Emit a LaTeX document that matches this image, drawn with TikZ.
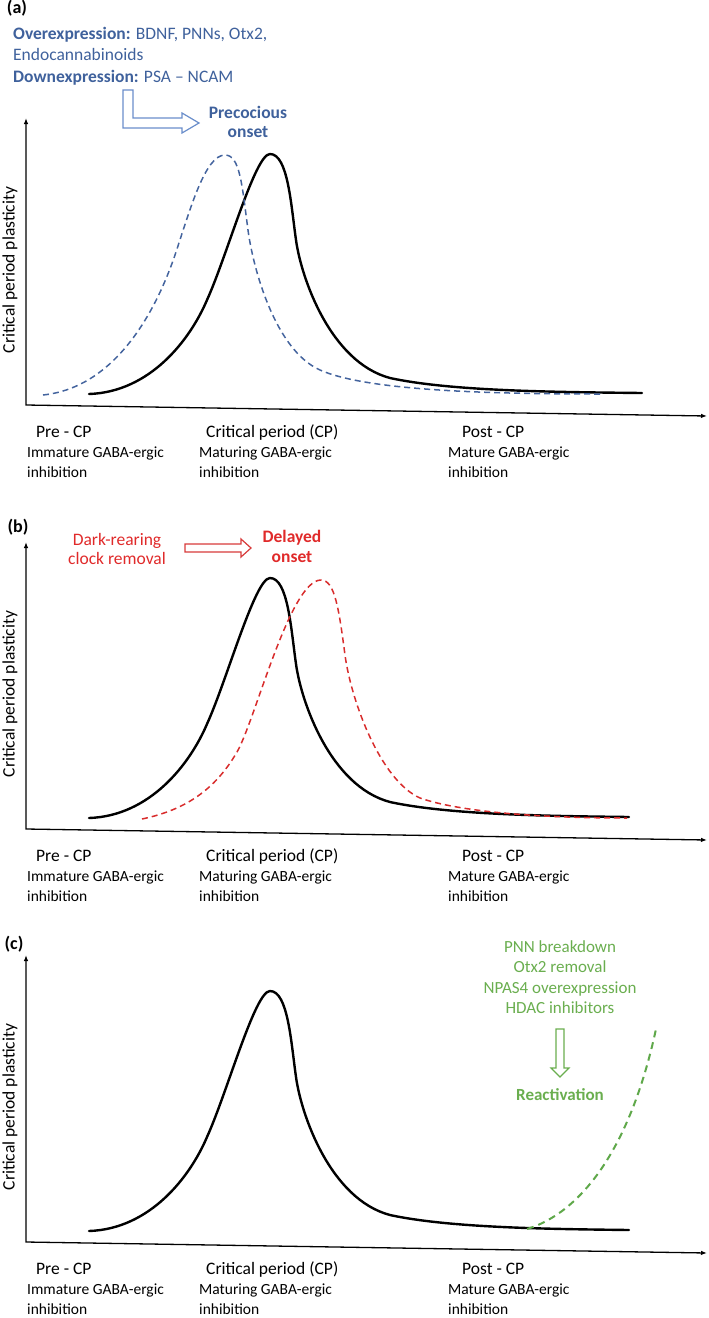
\documentclass[tikz,border=0pt]{standalone}
\usepackage{fontspec}
\setmainfont{Carlito}
\usetikzlibrary{arrows.meta}
\definecolor{bluetxt}{HTML}{3F619C}
\definecolor{bluearr}{HTML}{6A8ECB}
\definecolor{bluedash}{HTML}{44649E}
\definecolor{redtxt}{HTML}{E02A2A}
\definecolor{redarr}{HTML}{D83A3A}
\definecolor{reddash}{HTML}{D82C2C}
\definecolor{greentxt}{HTML}{6AAE4F}
\definecolor{greendash}{HTML}{5FA84A}
\tikzset{
  axis/.style={line width=1.3pt,{Latex[length=6pt,width=4.5pt]}-{Latex[length=6pt,width=4.5pt]}},
  curve/.style={line width=2.4pt,line join=round,line cap=round},
  dcurve/.style={line width=1.5pt,dash pattern=on 6pt off 4pt},
  lab/.style={font=\fontsize{17.5}{21}\selectfont,inner sep=0pt,anchor=base west},
  sublab/.style={font=\fontsize{15.5}{19}\selectfont,inner sep=0pt,anchor=base west},
  ylab/.style={font=\fontsize{17.5}{21}\selectfont,inner sep=0pt,rotate=90},
  big/.style={font=\fontsize{17.5}{21}\selectfont,inner sep=0pt,anchor=base},
  plab/.style={font=\fontsize{18}{21}\selectfont\bfseries,inner sep=0pt,anchor=base},
  hollow/.style={line width=1.2pt,fill=white,line join=miter}
}
\newcommand\cppanel[3]{%
\begin{scope}[shift={(0,#1)}]
  \draw[axis] (26,118) -- (26,405) -- (707,416);
  \node[ylab] (ylab#2) at (10,270) {Critical period plasticity};
  \node[lab] (pre#2) at (36,437) {Pre - CP};
  \node[sublab] (imm#2) at (27,457.5) {Immature GABA-ergic};
  \node[sublab] (immb#2) at (27,477) {inhibition};
  \node[lab] (cp#2) at (206,437) {Critical period (CP)};
  \node[sublab] (mat#2) at (199,457.5) {Maturing GABA-ergic};
  \node[sublab] (matb#2) at (199,477) {inhibition};
  \node[lab] (post#2) at (462,437) {Post - CP};
  \node[sublab] (mt#2) at (448,457.5) {Mature GABA-ergic};
  \node[sublab] (mtb#2) at (448,477) {inhibition};
  \draw[curve] (89,394) .. controls (150,392) and (190,340) .. (207,300)
     .. controls (227,256) and (255,154) .. (270,154)
     .. controls (288,154) and (291,205) .. (296,240)
     .. controls (301,277) and (330,362) .. (390,378)
     .. controls (450,391) and (550,392) .. (#3,393);
\end{scope}}
\begin{document}
\begin{tikzpicture}[x=1pt,y=-1pt]
\useasboundingbox (0,0) rectangle (709,1318);
% ---------- panel (a)
\node[plab] (la) at (17,13) {(a)};
\node[lab,text=bluetxt] (t1) at (13,39) {\textbf{Overexpression:} BDNF, PNNs, Otx2,};
\node[lab,text=bluetxt] (t2) at (13,60) {Endocannabinoids};
\node[lab,text=bluetxt] (t3) at (13,82) {\textbf{Downexpression:} PSA – NCAM};
\draw[hollow,draw=bluearr] (123,90) -- (133,90) -- (133,118) -- (182,118) -- (182,113) -- (199,123) -- (182,133) -- (182,128) -- (123,128) -- cycle;
\node[big,text=bluetxt,font=\fontsize{17.5}{21}\selectfont\bfseries] (pre1) at (248,118) {Precocious};
\node[big,text=bluetxt,font=\fontsize{17.5}{21}\selectfont\bfseries] (pre2) at (248,137) {onset};
\cppanel{0}{a}{642}
\draw[dcurve,draw=bluedash] (43,395) .. controls (110,388) and (152,322) .. (175,255)
   .. controls (190,210) and (205,155) .. (225,155)
   .. controls (240,155) and (242,185) .. (248,230)
   .. controls (253,268) and (275,350) .. (320,370)
   .. controls (365,390) and (480,394) .. (600,394);
% ---------- panel (b)
\node[plab] (lb) at (18,532) {(b)};
\node[big,text=redtxt] (d1) at (117,545) {Dark-rearing};
\node[big,text=redtxt] (d2) at (117,564) {clock removal};
\draw[hollow,draw=redarr] (185,544) -- (241,544) -- (241,539) -- (251,548) -- (241,557) -- (241,552) -- (185,552) -- cycle;
\node[big,text=redtxt,font=\fontsize{17.5}{21}\selectfont\bfseries] (del1) at (292,542) {Delayed};
\node[big,text=redtxt,font=\fontsize{17.5}{21}\selectfont\bfseries] (del2) at (292,562) {onset};
\cppanel{424}{b}{629}
\draw[dcurve,draw=reddash] (142,819) .. controls (185,810) and (215,790) .. (237,752)
   .. controls (255,721) and (290,580) .. (321,580)
   .. controls (335,580) and (339,610) .. (345,655)
   .. controls (351,700) and (380,780) .. (420,798)
   .. controls (460,812) and (540,818) .. (627,818);
% ---------- panel (c)
\node[plab] (lc) at (14,949) {(c)};
\node[big,text=greentxt,font=\fontsize{17}{20}\selectfont] (g1) at (560,952) {PNN breakdown};
\node[big,text=greentxt,font=\fontsize{17}{20}\selectfont] (g2) at (560,972.5) {Otx2 removal};
\node[big,text=greentxt,font=\fontsize{17}{20}\selectfont] (g3) at (560,993) {NPAS4 overexpression};
\node[big,text=greentxt,font=\fontsize{17}{20}\selectfont] (g4) at (560,1013.5) {HDAC inhibitors};
\draw[hollow,draw=greentxt] (556,1029) -- (564,1029) -- (564,1068) -- (569,1068) -- (560,1077) -- (551,1068) -- (556,1068) -- cycle;
\node[big,text=greentxt,font=\fontsize{17}{20}\selectfont\bfseries] (react) at (560,1100) {Reactivation};
\cppanel{837}{c}{629}
\draw[dcurve,line width=2pt,dash pattern=on 7pt off 5pt,draw=greendash] (527,1229) .. controls (580,1213) and (630,1150) .. (656,1029);
\end{tikzpicture}
\end{document}
